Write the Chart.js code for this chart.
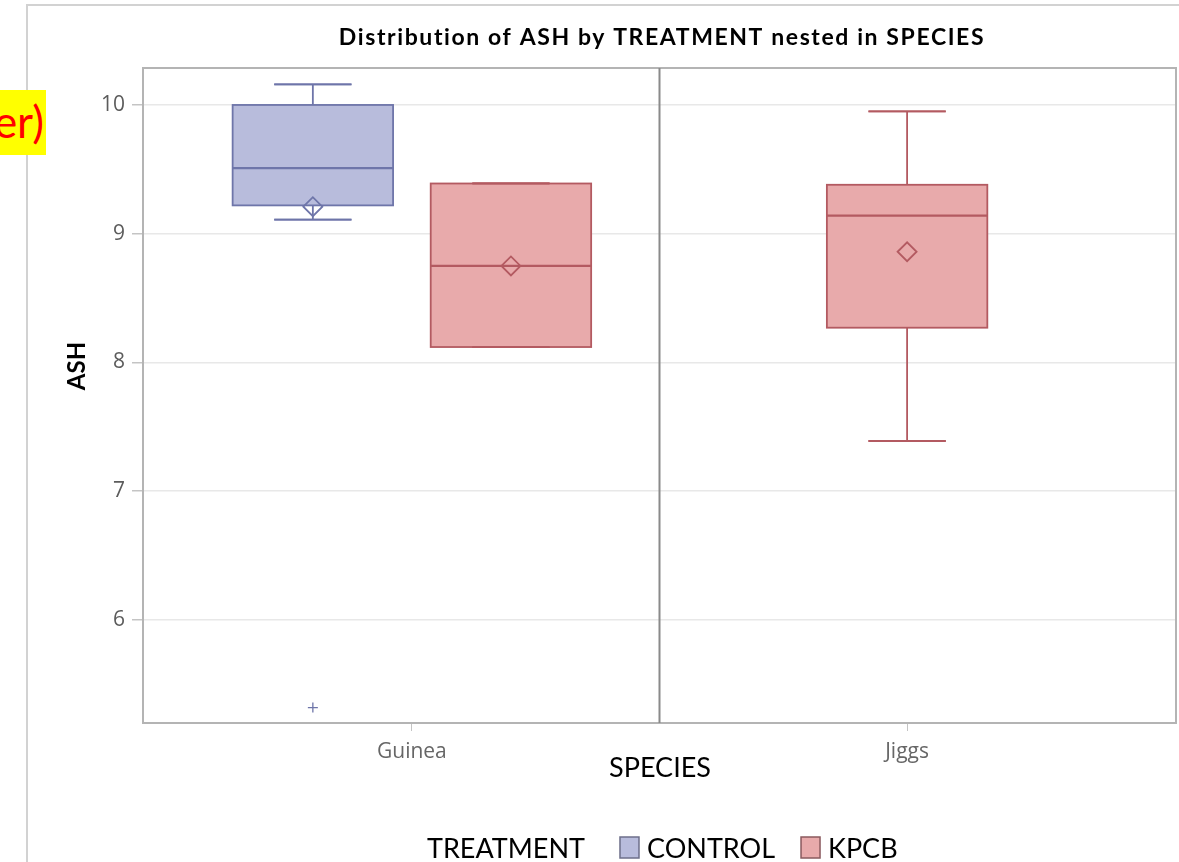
<!DOCTYPE html>
<html>
<head>
<meta charset="utf-8">
<script src="https://cdn.jsdelivr.net/npm/chart.js@4.4.1/dist/chart.umd.min.js"></script>
<style>
  html, body { margin: 0; padding: 0; background: #fff; }
  #wrap { position: relative; width: 1179px; height: 862px; }
  #note {
    position: absolute; left: 0; top: 90px; width: 46px; height: 65px;
    background: #ffff00; overflow: hidden;
  }
  #note span {
    position: absolute; right: 2px; top: 0; color: #ff0000;
    font: 44px Lato, sans-serif; line-height: 62px; white-space: nowrap;
  }
</style>
</head>
<body>
<div id="wrap">
  <canvas id="c" width="1179" height="862"></canvas>
  <div id="note"><span>er)</span></div>
</div>
<script>
// Categories and groups
const species = ['Guinea', 'Jiggs'];
const treatments = ['CONTROL', 'KPCB'];

// Five-number summaries per species: [min, q1, median, q3, max]
const controlBoxes = [[9.11, 9.22, 9.51, 10.0, 10.16], null];
const kpcbBoxes = [[8.12, 8.12, 8.75, 9.39, 9.39], [7.39, 8.27, 9.14, 9.38, 9.95]];

// Group means and outlying points
const controlMeans = [9.21, null];
const kpcbMeans = [8.75, 8.86];
const controlOutliers = [[5.32], []];
const kpcbOutliers = [[], []];

// Value axis ticks
const yTicks = [6, 7, 8, 9, 10];

const boxSets = [controlBoxes, kpcbBoxes];
const meanSets = [controlMeans, kpcbMeans];
const outlierSets = [controlOutliers, kpcbOutliers];
const fills = ['#b8bcdc', '#e8aaab'];
const lines = ['#6e75a9', '#b35a61'];

// Position of a treatment within its species slot
function groupX(i, t) {
  const present = boxSets.filter(s => s[i]).length;
  if (present < 2) return i;
  return i + (t === 0 ? -0.2 : 0.2);
}

const datasets = [];
treatments.forEach((name, t) => {
  datasets.push({
    label: name + ' mean',
    data: species.map((s, i) => meanSets[t][i] == null ? null : { x: groupX(i, t), y: meanSets[t][i] }).filter(Boolean),
    pointStyle: 'rectRot', pointRadius: 9.5, pointBorderWidth: 1.8,
    borderColor: lines[t], backgroundColor: 'rgba(0,0,0,0)'
  });
  const pts = [];
  species.forEach((s, i) => outlierSets[t][i].forEach(v => pts.push({ x: groupX(i, t), y: v })));
  datasets.push({
    label: name + ' outliers',
    data: pts,
    pointStyle: 'cross', pointRadius: 5, pointBorderWidth: 1.3,
    borderColor: lines[t], backgroundColor: lines[t]
  });
});

const BOX_HALF = 0.162;
const CAP_HALF = 0.078;

const boxPlugin = {
  id: 'boxes',
  beforeDraw(chart) {
    const ctx = chart.ctx;
    ctx.save();
    ctx.fillStyle = '#fff';
    ctx.fillRect(0, 0, chart.width, chart.height);
    // outer frame
    ctx.strokeStyle = '#d2d2d2';
    ctx.lineWidth = 2;
    ctx.beginPath();
    ctx.moveTo(27, chart.height);
    ctx.lineTo(27, 5);
    ctx.lineTo(chart.width, 5);
    ctx.stroke();
    ctx.restore();
  },
  beforeDatasetsDraw(chart) {
    const ctx = chart.ctx;
    const a = chart.chartArea;
    const xs = chart.scales.x, ys = chart.scales.y;
    ctx.save();
    // plot frame and species divider
    ctx.strokeStyle = '#b4b4b4';
    ctx.lineWidth = 2;
    ctx.strokeRect(a.left, a.top, a.right - a.left, a.bottom - a.top);
    ctx.strokeStyle = '#8a8a8a';
    const xd = xs.getPixelForValue(0.5);
    ctx.beginPath();
    ctx.moveTo(xd, a.top);
    ctx.lineTo(xd, a.bottom);
    ctx.stroke();

    boxSets.forEach((set, t) => {
      set.forEach((b, i) => {
        if (!b) return;
        const cx = groupX(i, t);
        const x0 = xs.getPixelForValue(cx - BOX_HALF);
        const x1 = xs.getPixelForValue(cx + BOX_HALF);
        const xc = xs.getPixelForValue(cx);
        const c0 = xs.getPixelForValue(cx - CAP_HALF);
        const c1 = xs.getPixelForValue(cx + CAP_HALF);
        const [mn, q1, md, q3, mx] = b.map(v => ys.getPixelForValue(v));
        ctx.lineWidth = 1.8;
        ctx.strokeStyle = lines[t];
        // whiskers and caps
        ctx.beginPath();
        ctx.moveTo(xc, q3); ctx.lineTo(xc, mx);
        ctx.moveTo(xc, q1); ctx.lineTo(xc, mn);
        ctx.moveTo(c0, mx); ctx.lineTo(c1, mx);
        ctx.moveTo(c0, mn); ctx.lineTo(c1, mn);
        ctx.stroke();
        // box
        ctx.fillStyle = fills[t];
        ctx.fillRect(x0, q3, x1 - x0, q1 - q3);
        ctx.strokeRect(x0, q3, x1 - x0, q1 - q3);
        // caps drawn over the box edge when they coincide
        ctx.beginPath();
        ctx.moveTo(c0, mx); ctx.lineTo(c1, mx);
        ctx.moveTo(c0, mn); ctx.lineTo(c1, mn);
        ctx.stroke();
        // median
        ctx.lineWidth = 2.2;
        ctx.beginPath();
        ctx.moveTo(x0, md); ctx.lineTo(x1, md);
        ctx.stroke();
      });
    });
    ctx.restore();
  },
  afterDraw(chart) {
    const ctx = chart.ctx;
    ctx.save();
    ctx.fillStyle = '#000';
    ctx.textBaseline = 'alphabetic';
    // title
    ctx.font = 'bold 23px Lato, sans-serif';
    ctx.textAlign = 'center';
    if ('letterSpacing' in ctx) ctx.letterSpacing = '1.6px';
    ctx.fillText('Distribution of ASH by TREATMENT nested in SPECIES', 662, 45);
    if ('letterSpacing' in ctx) ctx.letterSpacing = '0px';
    // x axis title
    ctx.font = '27px Lato, sans-serif';
    ctx.fillText('SPECIES', 660, 777);
    // y axis title
    ctx.save();
    ctx.translate(85, 366);
    ctx.rotate(-Math.PI / 2);
    ctx.font = 'bold 24px Lato, sans-serif';
    ctx.fillText('ASH', 0, 0);
    ctx.restore();
    // legend
    ctx.font = '27px Lato, sans-serif';
    ctx.textAlign = 'left';
    const gapTitle = 35, sw = 19, gapLabel = 8, gapItem = 26;
    let x = 427;
    const base = 858;
    ctx.fillText('TREATMENT', x, base);
    x += ctx.measureText('TREATMENT').width + gapTitle;
    treatments.forEach((n, t) => {
      ctx.fillStyle = fills[t];
      ctx.fillRect(x, base - 21, sw, 21);
      ctx.strokeStyle = t === 0 ? '#6d6f8a' : '#8a5a5e';
      ctx.lineWidth = 1.5;
      ctx.strokeRect(x, base - 21, sw, 21);
      x += sw + gapLabel;
      ctx.fillStyle = '#000';
      ctx.fillText(n, x, base);
      x += ctx.measureText(n).width + gapItem;
    });
    ctx.restore();
  }
};

new Chart(document.getElementById('c'), {
  type: 'scatter',
  data: { datasets },
  plugins: [boxPlugin],
  options: {
    responsive: false,
    animation: false,
    events: [],
    layout: { autoPadding: false, padding: { left: 0, top: 68, right: 3, bottom: 0 } },
    plugins: { legend: { display: false }, tooltip: { enabled: false }, title: { display: false } },
    scales: {
      x: {
        type: 'linear',
        min: -0.543,
        max: 1.543,
        afterBuildTicks: s => { s.ticks = species.map((n, i) => ({ value: i })); },
        afterFit: s => { s.height = 139; s.paddingLeft = 0; s.paddingRight = 0; },
        ticks: {
          callback: v => species[v] ?? '',
          font: { family: 'Open Sans', size: 21 },
          color: '#666',
          padding: 8,
          maxRotation: 0
        },
        grid: { drawOnChartArea: false, drawTicks: true, tickLength: 8, tickColor: '#c4c4c4' },
        border: { display: false }
      },
      y: {
        min: 5.2,
        max: 10.287,
        afterBuildTicks: s => { s.ticks = yTicks.map(v => ({ value: v })); },
        afterFit: s => { s.width = 143; s.paddingTop = 0; s.paddingBottom = 0; },
        ticks: {
          font: { family: 'Open Sans', size: 21 },
          color: '#5c5c5c',
          padding: 7
        },
        grid: { color: '#e8e8e8', lineWidth: 1.5, tickLength: 11, tickColor: '#c4c4c4' },
        border: { display: false }
      }
    }
  }
});
</script>
</body>
</html>
